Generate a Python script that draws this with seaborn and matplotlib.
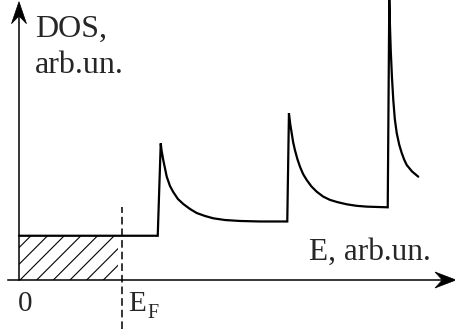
import numpy as np
import pandas as pd
import matplotlib
matplotlib.use("Agg")
import matplotlib.pyplot as plt
import seaborn as sns
from matplotlib.patches import Polygon
from matplotlib.transforms import IdentityTransform

# ---- data ----
energy = [0.0, 1.250, 1.277, 1.284, 1.300, 1.331, 1.360, 1.390, 1.432, 1.480,
          1.541, 1.601, 1.676, 1.750, 1.856, 1.991, 2.171, 2.417,
          2.432, 2.444, 2.457, 2.470, 2.486, 2.508, 2.532, 2.560, 2.592, 2.635,
          2.682, 2.740, 2.802, 2.870, 2.952, 3.040, 3.132, 3.322,
          3.336, 3.342, 3.349, 3.360, 3.372, 3.386, 3.403, 3.425, 3.448, 3.470,
          3.493, 3.540, 3.597]
dos = [0.79, 0.79, 2.44, 2.32, 2.14, 1.845, 1.68, 1.57, 1.446, 1.357,
       1.268, 1.196, 1.143, 1.102, 1.071, 1.054, 1.045, 1.045,
       2.977, 2.78, 2.62, 2.46, 2.32, 2.16, 2.02, 1.89, 1.786, 1.67,
       1.577, 1.49, 1.43, 1.39, 1.352, 1.325, 1.31, 1.298,
       5.0, 4.55, 4.107, 3.62, 3.214, 2.87, 2.625, 2.42, 2.268, 2.15,
       2.054, 1.94, 1.845]
fermi_energy = 0.925
filled_level = 0.79
dashed_top = 1.31

x_major = [0, 1, 2, 3]
x_minor = [0.2, 0.4, 0.6, 0.8, 1.2, 1.4, 1.6, 1.8, 2.2, 2.4, 2.6, 2.8, 3.2, 3.4]
y_major = [1, 2, 3, 4]
y_minor = [0.25, 0.5, 0.75, 1.25, 1.5, 1.75, 2.25, 2.5, 2.75, 3.25, 3.5, 3.75]

ylabel_lines = ["DOS,", "arb.un."]
xlabel_text = "E, arb.un."
origin_label = "0"
fermi_main, fermi_sub = "E", "F"

# ---- styling ----
sns.set_style("white")
plt.rcParams["font.family"] = ["Liberation Serif", "DejaVu Serif"]
plt.rcParams["hatch.linewidth"] = 0.8
plt.rcParams["hatch.color"] = "black"

fig = plt.figure(figsize=(4.56, 3.29), dpi=100)
ax = fig.add_axes([0, 0, 1, 1])
ax.set_xlim(-0.171, 3.937)
ax.set_ylim(-0.875, 5.0)
ax.set_facecolor("white")

df = pd.DataFrame({"E": energy, "DOS": dos})
sns.lineplot(data=df, x="E", y="DOS", ax=ax, color="black", lw=1.6,
             estimator=None, sort=False, legend=False)
ax.lines[-1].set_solid_joinstyle("miter")
ax.lines[-1].set_clip_on(False)

# hatched occupied states
ax.fill_between([0, fermi_energy - 0.03], 0, filled_level, facecolor="none",
                edgecolor="black", hatch="//", linewidth=0)

# Fermi level dashed line
ax.plot([fermi_energy, fermi_energy], [ax.get_ylim()[0], dashed_top],
        color="black", lw=1.1, dashes=(5.0, 2.6), clip_on=False)

# axes as spines through zero
for s in ["top", "right"]:
    ax.spines[s].set_visible(False)
ax.spines["left"].set_position(("data", 0))
ax.spines["bottom"].set_position(("data", 0))
ax.spines["left"].set_bounds(0, 4.9)
ax.spines["bottom"].set_bounds(-0.1, 3.85)
for s in ["left", "bottom"]:
    ax.spines[s].set_linewidth(1.1)
    ax.spines[s].set_color("black")

ax.set_xticks(x_major)
ax.set_xticks(x_minor, minor=True)
ax.set_yticks(y_major)
ax.set_yticks(y_minor, minor=True)
ax.tick_params(which="major", direction="in", length=3.5, width=0.6,
               labelbottom=False, labelleft=False, color="black")
ax.tick_params(which="minor", direction="in", length=2.0, width=0.6, color="black")
ax.set_xlabel("")
ax.set_ylabel("")

# arrowheads (stealth style) at axis tips
fig.canvas.draw()
def stealth(tip_data, direction, L, W):
    tx, ty = ax.transData.transform(tip_data)
    dx, dy = direction
    px, py = -dy, dx
    verts = [(tx, ty),
             (tx - L * dx + W * px, ty - L * dy + W * py),
             (tx - 0.65 * L * dx, ty - 0.65 * L * dy),
             (tx - L * dx - W * px, ty - L * dy - W * py)]
    poly = Polygon(verts, closed=True, facecolor="black", edgecolor="black",
                   lw=0.5, transform=IdentityTransform(), clip_on=False)
    fig.patches.append(poly)

xmax = ax.get_xlim()[1]
ymax = ax.get_ylim()[1]
stealth((xmax, 0), (1, 0), 21, 8)
stealth((0, ymax - 0.03), (0, 1), 22, 7.5)

# texts
ax.text(0.144, 4.34, ylabel_lines[0], fontsize=23, ha="left", va="baseline")
ax.text(0.144, 3.69, ylabel_lines[1], fontsize=23, ha="left", va="baseline")
ax.text(2.614, 0.357, xlabel_text, fontsize=22.5, ha="left", va="baseline")
ax.text(0.059, -0.554, origin_label, fontsize=21, ha="center", va="baseline")
ax.text(0.985, -0.554, fermi_main, fontsize=21, ha="left", va="baseline")
ax.text(1.16, -0.68, fermi_sub, fontsize=14.5, ha="left", va="baseline")

fig.savefig("out.png", dpi=100, facecolor="white")
